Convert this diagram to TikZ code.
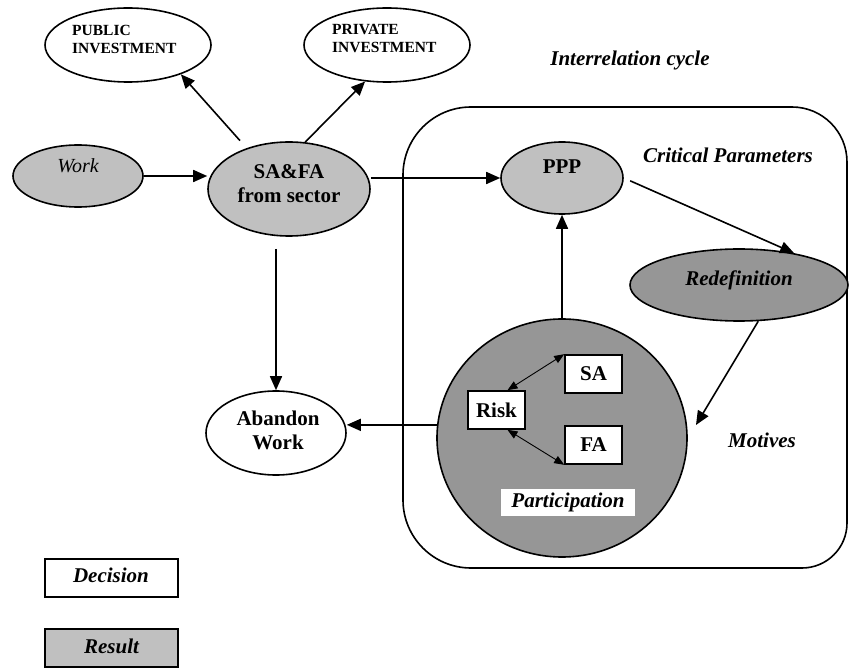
\documentclass[tikz,border=0pt]{standalone}
\usepackage{fontspec}
\setmainfont{Liberation Serif}
\usetikzlibrary{shapes.geometric,arrows.meta}
\definecolor{lgray}{HTML}{C0C0C0}
\definecolor{dgray}{HTML}{969696}
\tikzset{
  shp/.style={draw=black, line width=1.6pt, inner sep=0pt},
  ell/.style={shp, ellipse},
  big/.style={font=\fontsize{21}{24}\selectfont\bfseries, align=center, inner sep=0pt},
  bigit/.style={font=\fontsize{21}{24}\selectfont\bfseries\itshape, align=center, inner sep=0pt},
  small/.style={font=\fontsize{15.5}{18}\selectfont\bfseries, align=left, anchor=west, inner sep=0pt},
  conn/.style={line width=1.6pt, -{Triangle[length=14pt,width=12pt]}},
  thin/.style={line width=0.9pt, {Triangle[length=10pt,width=8pt]}-{Triangle[length=10pt,width=8pt]}},
  sq/.style={shp, rectangle, fill=white},
}
\begin{document}
\begin{tikzpicture}[x=1pt,y=-1pt]
\useasboundingbox (0,0) rectangle (849,668);
% interrelation cycle box
\draw[line width=1.6pt] (403,300) [rounded corners=68pt] -- (403,107) -- (600,107)
  [rounded corners=55pt] -- (847,107) -- (847,300)
  [rounded corners=45pt] -- (847,568) -- (600,568)
  [rounded corners=68pt] -- (403,568) -- cycle;
% shapes
\node[ell, minimum width=166pt, minimum height=74pt] (pub) at (128,45) {};
\node[ell, minimum width=166pt, minimum height=74pt] (priv) at (387,45) {};
\node[ell, fill=lgray, minimum width=130pt, minimum height=62pt] (work) at (78,176) {};
\node[ell, fill=lgray, minimum width=162pt, minimum height=94pt] (saf) at (289,189) {};
\node[ell, minimum width=140pt, minimum height=84pt] (abw) at (276,433) {};
\node[ell, fill=lgray, minimum width=122pt, minimum height=72pt] (ppp) at (562,178) {};
\node[ell, fill=dgray, minimum width=218pt, minimum height=72pt] (redef) at (739,285) {};
\node[ell, fill=dgray, minimum width=250pt, minimum height=238pt] (part) at (562,438) {};
\node[sq, minimum width=57pt, minimum height=38pt, big] (risk) at (496.5,410) {Risk};
\node[sq, minimum width=57pt, minimum height=38pt, big] (sa) at (593.5,374) {SA};
\node[sq, minimum width=57pt, minimum height=38pt, big] (fa) at (593.5,445) {FA};
\node[fill=white, minimum width=134pt, minimum height=27pt, bigit] (ptxt) at (568,502.5) {Participation};
% legend
\node[sq, minimum width=133pt, minimum height=38pt] (dec) at (111.5,578) {};
\node[shp, rectangle, fill=lgray, minimum width=133pt, minimum height=38pt] (res) at (111.5,648) {};
\node[bigit] (dect) at (111,575) {Decision};
\node[bigit] (rest) at (111.5,646) {Result};
% texts
\node[small] (pubt) at (72,39) {PUBLIC\\INVESTMENT};
\node[small] (privt) at (332,39) {PRIVATE\\INVESTMENT};
\node[font=\fontsize{20}{24}\selectfont\itshape, inner sep=0pt] (workt) at (78,166) {Work};
\node[big] (saft) at (289,184) {SA\&FA\\from sector};
\node[big] (pppt) at (562,167) {PPP};
\node[big] (abwt) at (278,430) {Abandon\\Work};
\node[bigit] (crit) at (728,155) {Critical Parameters};
\node[bigit] (inter) at (630,60) {Interrelation cycle};
\node[bigit] (redeft) at (739,280) {Redefinition};
\node[bigit] (mot) at (762,440) {Motives};
\coordinate (motin) at (696,425);
% connectors
\draw[conn, shorten <=10pt] (saf.136) -- (pub.-29);
\draw[conn] (saf.71) -- (priv.-121);
\draw[conn] (work.east) -- (work.east -| saf.west);
\draw[conn] (ppp.west -| saf.east) -- (ppp.west);
\draw[conn] ([yshift=-12pt]saf.south -| abw.north) -- (abw.north);
\draw[conn] (part.174) -- (part.174 -| abw.east);
\draw[conn] (part.north) -- (ppp.south);
\draw[conn, shorten <=7pt] (ppp.east) -- (redef.30);
\draw[conn] (redef.-62) -- (motin);
\draw[thin] ([xshift=11pt]risk.north) -- (sa.north west);
\draw[thin] ([xshift=11pt]risk.south) -- (fa.south west);
\end{tikzpicture}
\end{document}
